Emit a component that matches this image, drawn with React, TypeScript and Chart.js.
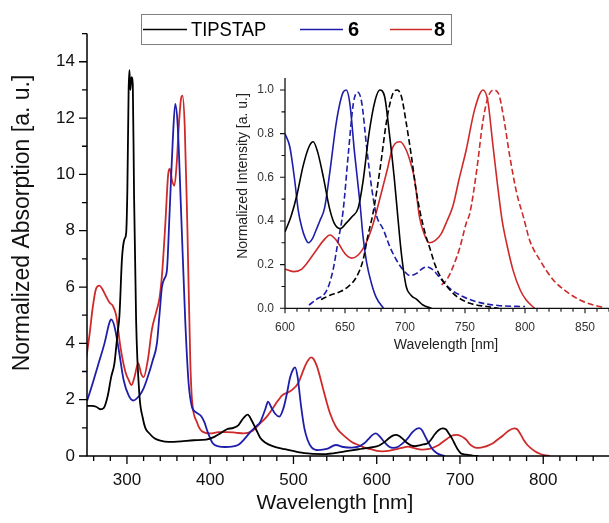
import { useEffect, useRef } from 'react';
import { Chart, registerables } from 'chart.js';

Chart.register(...registerables);

const FONT = "'Liberation Sans', Arial, Helvetica, sans-serif";
const BLACK = '#000000';
const BLUE = '#1e1eaa';
const RED = '#cf2a2a';

// ---------- main panel: normalized absorption ----------
const tipstapAbsWl = [252, 258, 263, 268, 272, 277, 281, 285, 288.5, 291, 294, 297, 299, 300.5, 302, 303, 304, 305.5, 307, 308.5, 311, 315, 319, 322, 327, 333, 340, 350, 365, 380, 395, 405, 412, 420, 428, 434, 440, 445, 450, 455, 460, 466, 475, 490, 513, 536, 559, 578, 590, 600, 605, 610, 615, 620, 623, 627, 632, 637, 641, 646, 651, 656, 661, 665, 670, 675, 679, 683, 687, 691, 694, 697, 701, 705, 710, 715, 722];
const tipstapAbsVal = [1.78, 1.78, 1.75, 1.66, 1.7, 2.15, 2.8, 3.3, 4.3, 5.0, 7.0, 7.7, 7.9, 9.5, 13.0, 13.7, 13.0, 13.45, 13.2, 9.3, 4.8, 2.15, 1.35, 1.0, 0.8, 0.63, 0.55, 0.5, 0.52, 0.56, 0.58, 0.68, 0.8, 0.95, 1.0, 1.1, 1.35, 1.47, 1.25, 0.95, 0.65, 0.48, 0.35, 0.24, 0.1, 0.07, 0.15, 0.24, 0.29, 0.34, 0.41, 0.51, 0.64, 0.73, 0.75, 0.71, 0.59, 0.45, 0.38, 0.35, 0.38, 0.41, 0.45, 0.57, 0.78, 0.93, 0.98, 0.95, 0.78, 0.59, 0.41, 0.25, 0.1, 0.06, 0.04, 0.015, 0];

const sixAbsWl = [252, 258, 265, 273, 279, 281, 285, 290, 296, 302, 307.5, 315, 320, 326, 331, 336, 339, 342, 345, 348, 351, 355, 358, 361, 365, 370, 374, 378, 383, 389, 393, 397, 403, 410, 418, 426, 434, 441, 448, 455, 460, 466, 469.5, 473, 478, 483, 488, 492, 496, 500, 502, 505, 509, 513, 517, 522, 530, 540, 551, 560, 570, 578, 585, 590, 595, 599, 604, 609, 615, 620, 625, 630, 637, 643, 648, 651, 654, 658, 662, 665, 668, 672, 676, 682];
const sixAbsVal = [1.95, 2.5, 3.2, 4.0, 4.74, 4.85, 4.6, 3.8, 2.7, 2.15, 1.97, 2.15, 2.4, 2.9, 3.4, 4.0, 5.0, 6.0, 6.3, 6.6, 8.5, 11.2, 12.5, 11.7, 8.7, 4.8, 2.6, 1.75, 1.55, 1.42, 1.2, 0.85, 0.45, 0.34, 0.32, 0.33, 0.4, 0.6, 0.85, 1.05, 1.2, 1.65, 1.93, 1.75, 1.5, 1.4, 1.7, 2.2, 2.8, 3.1, 3.15, 2.8, 1.8, 1.0, 0.57, 0.3, 0.21, 0.25, 0.39, 0.32, 0.3, 0.33, 0.45, 0.6, 0.75, 0.8, 0.68, 0.5, 0.33, 0.29, 0.32, 0.42, 0.62, 0.85, 0.97, 0.99, 0.93, 0.71, 0.48, 0.33, 0.21, 0.11, 0.05, 0];

const eightAbsWl = [251, 255, 259, 263, 267, 270, 274, 279, 283, 287, 292, 298, 302, 305.5, 309, 313.5, 317, 320, 325, 330, 335, 339, 342, 346, 349.5, 351.5, 354, 357, 360, 362, 365, 366.7, 369.4, 372.5, 376, 378, 384, 390, 400, 410, 420, 430, 440, 450, 460, 468, 475, 481, 487, 493, 498, 502, 506, 510, 514, 518, 521, 524, 528, 532, 536, 540, 544, 551, 557, 563, 570, 578, 587, 597, 600, 607, 614, 624, 632, 637.5, 643, 650, 656, 661, 668, 674, 678, 685, 690, 696, 701, 705, 708, 712, 716, 720, 725, 730, 735, 740, 745, 751, 758, 765, 769, 773, 777, 781, 785, 790, 796, 801, 808];
const eightAbsVal = [3.45, 4.3, 5.3, 5.95, 6.05, 5.95, 5.72, 5.45, 5.33, 5.0, 3.9, 3.0, 2.7, 2.52, 2.8, 3.3, 2.92, 2.8, 3.4, 4.5, 5.1, 5.6, 6.4, 8.2, 10.0, 10.2, 9.8, 9.6, 10.5, 11.6, 12.7, 12.8, 11.7, 8.2, 3.45, 2.04, 1.21, 0.88, 0.8, 0.85, 0.85, 0.83, 0.8, 0.88, 1.16, 1.4, 1.69, 1.95, 2.17, 2.25, 2.34, 2.45, 2.6, 2.9, 3.2, 3.42, 3.5, 3.45, 3.2, 2.8, 2.34, 1.9, 1.51, 1.04, 0.82, 0.66, 0.5, 0.39, 0.28, 0.21, 0.18, 0.165, 0.18, 0.245, 0.3, 0.33, 0.3, 0.245, 0.225, 0.24, 0.3, 0.38, 0.47, 0.62, 0.72, 0.75, 0.71, 0.64, 0.56, 0.41, 0.33, 0.29, 0.3, 0.33, 0.39, 0.46, 0.58, 0.71, 0.89, 0.98, 0.94, 0.76, 0.55, 0.39, 0.28, 0.17, 0.08, 0.035, 0];

// ---------- inset: normalized intensity (solid = absorption, dashed = emission) ----------
const tipstapAbsNWl = [600, 605, 610, 615, 620, 623.5, 627, 632, 637, 641, 646, 651, 656, 661, 665, 670, 675, 679, 683, 687, 691, 694, 697, 701, 705, 710, 715, 722];
const tipstapAbsNVal = [0.35, 0.42, 0.52, 0.65, 0.74, 0.763, 0.72, 0.6, 0.46, 0.39, 0.365, 0.39, 0.42, 0.46, 0.58, 0.8, 0.95, 1.0, 0.97, 0.8, 0.6, 0.42, 0.25, 0.1, 0.06, 0.04, 0.015, 0];

const sixAbsNWl = [600, 604, 608, 611, 614, 617, 619.5, 623, 626, 629, 633, 637.5, 643, 648.5, 651, 654, 658, 662.5, 665, 668, 672, 676, 682];
const sixAbsNVal = [0.8, 0.74, 0.59, 0.45, 0.37, 0.32, 0.3, 0.32, 0.36, 0.4, 0.46, 0.63, 0.86, 0.99, 1.0, 0.94, 0.71, 0.48, 0.33, 0.21, 0.115, 0.05, 0];

const eightAbsNWl = [600, 607, 614, 624, 632, 637.5, 643, 650, 655.6, 661, 668, 673.6, 678, 685, 690, 696, 701, 705, 708, 712, 716, 720, 725, 730, 735, 740, 745, 751, 758, 765, 769, 773, 777, 781, 785, 790, 796, 801, 808];
const eightAbsNVal = [0.18, 0.168, 0.18, 0.25, 0.31, 0.336, 0.31, 0.25, 0.23, 0.244, 0.305, 0.39, 0.48, 0.63, 0.74, 0.763, 0.725, 0.66, 0.59, 0.42, 0.34, 0.3, 0.31, 0.34, 0.4, 0.47, 0.59, 0.725, 0.91, 1.0, 0.95, 0.76, 0.57, 0.4, 0.29, 0.175, 0.084, 0.038, 0];

const tipstapEmWl = [630, 637.5, 645.8, 652.8, 659.7, 665, 669, 673.5, 679, 684.7, 690, 693.6, 697, 701, 705.5, 709, 713, 717, 721, 725, 730, 735, 743, 754, 768, 778];
const tipstapEmVal = [0.04, 0.06, 0.076, 0.1, 0.145, 0.22, 0.33, 0.44, 0.63, 0.86, 0.985, 1.0, 0.97, 0.85, 0.69, 0.55, 0.43, 0.34, 0.27, 0.2, 0.14, 0.1, 0.055, 0.023, 0.008, 0];

const sixEmWl = [620, 626, 635, 640, 644, 648.5, 652.8, 657, 660.6, 664, 668, 672, 676, 682, 687.5, 693, 698.6, 704, 709.7, 714, 718, 723.6, 729, 737.5, 748.6, 762.5, 779, 800];
const sixEmVal = [0.015, 0.04, 0.084, 0.175, 0.3, 0.45, 0.71, 0.94, 0.99, 0.94, 0.74, 0.56, 0.43, 0.36, 0.28, 0.22, 0.175, 0.15, 0.16, 0.18, 0.19, 0.175, 0.14, 0.09, 0.053, 0.026, 0.012, 0.008];

const eightEmWl = [730.5, 734.7, 740, 745.8, 751, 754, 759.7, 765, 769.4, 773.6, 777.8, 782, 787.5, 793, 798.6, 804, 812.5, 823.6, 834.7, 845.8, 857, 866];
const eightEmVal = [0.107, 0.13, 0.19, 0.28, 0.39, 0.435, 0.63, 0.86, 0.97, 1.0, 0.985, 0.88, 0.69, 0.53, 0.42, 0.31, 0.22, 0.13, 0.076, 0.038, 0.015, 0.003];

// ---------- ticks & labels ----------
const mainXTicks = [300, 400, 500, 600, 700, 800];
const mainYTicks = [0, 2, 4, 6, 8, 10, 12, 14];
const insetXTicks = [600, 650, 700, 750, 800, 850];
const insetYTicks = [0, 0.2, 0.4, 0.6, 0.8, 1.0];
const legendLabels = ['TIPSTAP', '6', '8'];
const mainXTitle = 'Wavelength [nm]';
const mainYTitle = 'Normalized Absorption [a. u.]';
const insetXTitle = 'Wavelength [nm]';
const insetYTitle = 'Normalized Intensity [a. u.]';

function toPoints(xs: number[], ys: number[]) {
  return xs.map((x, i) => ({ x, y: ys[i] }));
}

function lineDs(label: string, xs: number[], ys: number[], color: string, width: number, dash: number[] = []) {
  return {
    label,
    data: toPoints(xs, ys),
    borderColor: color,
    backgroundColor: color,
    borderWidth: width,
    borderDash: dash,
    pointRadius: 0,
    pointHoverRadius: 0,
    fill: false,
    cubicInterpolationMode: 'monotone' as const,
    borderJoinStyle: 'round' as const,
  };
}

function drawTickSet(ctx: CanvasRenderingContext2D, scale: any, area: any, axis: 'x' | 'y', from: number, to: number, step: number, majorEvery: number, majorLen: number, minorLen: number) {
  ctx.beginPath();
  const n = Math.round((to - from) / step);
  for (let i = 0; i <= n; i++) {
    const v = from + i * step;
    const isMajor = Math.abs(v / majorEvery - Math.round(v / majorEvery)) < 1e-6;
    const len = isMajor ? majorLen : minorLen;
    if (axis === 'x') {
      const px = scale.getPixelForValue(v);
      ctx.moveTo(px, area.bottom);
      ctx.lineTo(px, area.bottom + len);
    } else {
      const py = scale.getPixelForValue(v);
      ctx.moveTo(area.left, py);
      ctx.lineTo(area.left - len, py);
    }
  }
  ctx.stroke();
}

const mainDecor = {
  id: 'mainDecor',
  afterDraw(chart: any) {
    const { ctx, chartArea, scales } = chart;
    const a = chartArea;
    ctx.save();
    ctx.strokeStyle = '#000';
    ctx.lineWidth = 1.5;
    ctx.beginPath();
    ctx.moveTo(a.left, a.top);
    ctx.lineTo(a.left, a.bottom);
    ctx.lineTo(a.right, a.bottom);
    ctx.stroke();
    ctx.lineWidth = 1.3;
    drawTickSet(ctx, scales.x, a, 'x', 260, 860, 20, 100, 8, 5);
    drawTickSet(ctx, scales.y, a, 'y', 0, 15, 1, 2, 8, 5);

    // axis titles
    ctx.fillStyle = '#111';
    ctx.textAlign = 'center';
    ctx.textBaseline = 'middle';
    ctx.font = `21px ${FONT}`;
    ctx.fillText(mainXTitle, 335, 503);
    ctx.save();
    ctx.translate(23, 223);
    ctx.rotate(-Math.PI / 2);
    ctx.font = `23px ${FONT}`;
    ctx.fillText(mainYTitle, 0, 0);
    ctx.restore();

    // legend
    ctx.strokeStyle = '#808080';
    ctx.lineWidth = 1;
    ctx.strokeRect(141.5, 14.5, 310, 30);
    const ly = 29.5;
    const entries = [
      { label: legendLabels[0], color: BLACK, x0: 143, x1: 187, tx: 191, bold: false, sx: 0.92 },
      { label: legendLabels[1], color: BLUE, x0: 300, x1: 343, tx: 348, bold: true, sx: 1 },
      { label: legendLabels[2], color: RED, x0: 390, x1: 432, tx: 434, bold: true, sx: 1 },
    ];
    entries.forEach((e) => {
      ctx.strokeStyle = e.color;
      ctx.lineWidth = 1.7;
      ctx.beginPath();
      ctx.moveTo(e.x0, ly);
      ctx.lineTo(e.x1, ly);
      ctx.stroke();
      ctx.save();
      ctx.translate(e.tx, ly + 0.5);
      ctx.scale(e.sx, 1);
      ctx.fillStyle = '#000';
      ctx.textAlign = 'left';
      ctx.textBaseline = 'middle';
      ctx.font = `${e.bold ? 'bold ' : ''}20px ${FONT}`;
      ctx.fillText(e.label, 0, 0);
      ctx.restore();
    });
    ctx.restore();
  },
};

const insetDecor = {
  id: 'insetDecor',
  afterDraw(chart: any) {
    const { ctx, chartArea, scales } = chart;
    const a = chartArea;
    ctx.save();
    ctx.strokeStyle = '#111';
    ctx.lineWidth = 1.3;
    ctx.beginPath();
    ctx.moveTo(a.left, a.top);
    ctx.lineTo(a.left, a.bottom);
    ctx.lineTo(a.right, a.bottom);
    ctx.stroke();
    ctx.lineWidth = 1.1;
    drawTickSet(ctx, scales.x, a, 'x', 600, 870, 10, 50, 5, 3.5);
    drawTickSet(ctx, scales.y, a, 'y', 0, 1.0, 0.1, 0.2, 5, 3.5);

    ctx.fillStyle = '#222';
    ctx.textAlign = 'center';
    ctx.textBaseline = 'middle';
    ctx.font = `14px ${FONT}`;
    ctx.fillText(insetXTitle, 446, 345);
    ctx.save();
    ctx.translate(243, 176);
    ctx.rotate(-Math.PI / 2);
    ctx.fillText(insetYTitle, 0, 0);
    ctx.restore();
    ctx.restore();
  },
};

export default function App() {
  const mainRef = useRef<HTMLCanvasElement | null>(null);
  const insetRef = useRef<HTMLCanvasElement | null>(null);

  useEffect(() => {
    if (!mainRef.current || !insetRef.current) return;

    const mainChart = new Chart(mainRef.current, {
      type: 'line',
      data: {
        datasets: [
          lineDs(legendLabels[0], tipstapAbsWl, tipstapAbsVal, BLACK, 1.8),
          lineDs(legendLabels[1], sixAbsWl, sixAbsVal, BLUE, 1.8),
          lineDs(legendLabels[2], eightAbsWl, eightAbsVal, RED, 1.8),
        ] as any,
      },
      options: {
        animation: false,
        responsive: false,
        maintainAspectRatio: false,
        events: [],
        layout: { padding: { top: 33.6, left: 0, right: 0, bottom: 0 } },
        plugins: { legend: { display: false }, tooltip: { enabled: false }, title: { display: false } },
        scales: {
          x: {
            type: 'linear',
            min: 252,
            max: 879,
            afterBuildTicks: (s: any) => { s.ticks = mainXTicks.map((v) => ({ value: v })); },
            afterFit: (s: any) => { s.height = 67; },
            grid: { display: false, drawTicks: false },
            border: { display: false },
            ticks: { color: '#111', font: { family: FONT, size: 17 }, padding: 14, maxRotation: 0, autoSkip: false },
          },
          y: {
            type: 'linear',
            min: 0,
            max: 15,
            afterBuildTicks: (s: any) => { s.ticks = mainYTicks.map((v) => ({ value: v })); },
            afterFit: (s: any) => { s.width = 87; },
            grid: { display: false, drawTicks: false },
            border: { display: false },
            ticks: { color: '#111', font: { family: FONT, size: 17 }, padding: 12, autoSkip: false },
          },
        },
      } as any,
      plugins: [mainDecor],
    });

    const insetChart = new Chart(insetRef.current, {
      type: 'line',
      data: {
        datasets: [
          lineDs('TIPSTAP abs', tipstapAbsNWl, tipstapAbsNVal, BLACK, 1.6),
          lineDs('TIPSTAP em', tipstapEmWl, tipstapEmVal, BLACK, 1.6, [6, 3]),
          lineDs('6 abs', sixAbsNWl, sixAbsNVal, BLUE, 1.6),
          lineDs('6 em', sixEmWl, sixEmVal, BLUE, 1.6, [6, 3]),
          lineDs('8 abs', eightAbsNWl, eightAbsNVal, RED, 1.6),
          lineDs('8 em', eightEmWl, eightEmVal, RED, 1.6, [6, 3]),
        ] as any,
      },
      options: {
        animation: false,
        responsive: false,
        maintainAspectRatio: false,
        events: [],
        layout: { padding: { top: 78, left: 230, right: 0, bottom: 153 } },
        plugins: { legend: { display: false }, tooltip: { enabled: false }, title: { display: false } },
        scales: {
          x: {
            type: 'linear',
            min: 600,
            max: 870,
            afterBuildTicks: (s: any) => { s.ticks = insetXTicks.map((v) => ({ value: v })); },
            afterFit: (s: any) => { s.height = 61.7; },
            grid: { display: false, drawTicks: false },
            border: { display: false },
            ticks: { color: '#333', font: { family: FONT, size: 12 }, padding: 12.5, maxRotation: 0, autoSkip: false },
          },
          y: {
            type: 'linear',
            min: 0,
            max: 1.055,
            afterBuildTicks: (s: any) => { s.ticks = insetYTicks.map((v) => ({ value: v })); },
            afterFit: (s: any) => { s.width = 55; },
            grid: { display: false, drawTicks: false },
            border: { display: false },
            ticks: {
              color: '#333',
              font: { family: FONT, size: 12 },
              padding: 11,
              autoSkip: false,
              callback: (v: any) => Number(v).toFixed(1),
            },
          },
        },
      } as any,
      plugins: [insetDecor],
    });

    return () => {
      mainChart.destroy();
      insetChart.destroy();
    };
  }, []);

  return (
    <div style={{ position: 'absolute', left: 0, top: 0, width: 609, height: 523, background: '#fff' }}>
      <canvas ref={mainRef} width={609} height={523} style={{ position: 'absolute', left: 0, top: 0, display: 'block' }} />
      <canvas ref={insetRef} width={609} height={523} style={{ position: 'absolute', left: 0, top: 0, display: 'block' }} />
    </div>
  );
}
